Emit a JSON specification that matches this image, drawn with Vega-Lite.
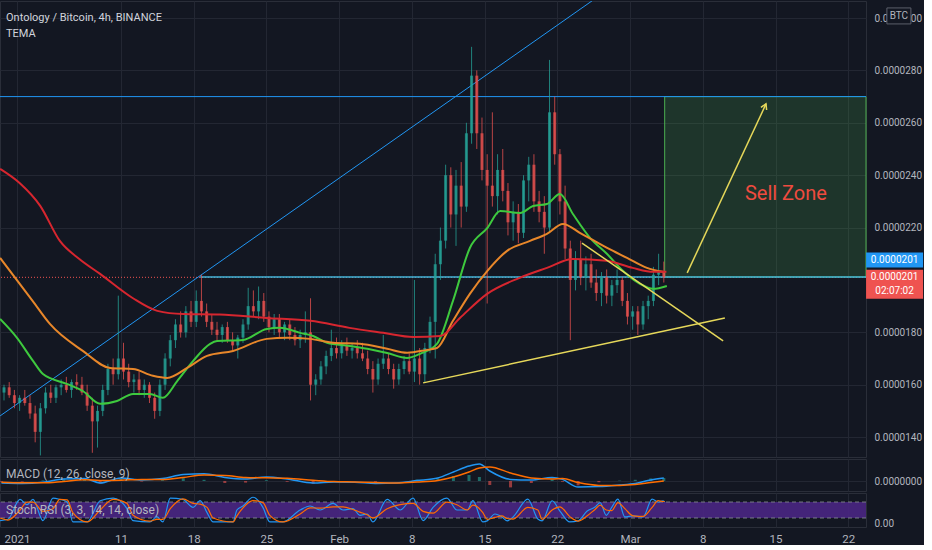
{
"$schema": "https://vega.github.io/schema/vega-lite/v6.json",
"background": "#131722",
"padding": {"left": -5, "top": 0, "right": 0, "bottom": 0},
"spacing": 0,
"config": {
  "font": "Roboto, sans-serif",
  "view": {"stroke": "#2a2e39", "strokeWidth": 1},
  "axis": {"labelColor": "#b2b5be", "labelFontSize": 10, "gridColor": "#232733", "gridWidth": 1, "domain": false, "ticks": false}
},
"datasets": {
  "candles": [
    {"t":"2020-12-30T18:00Z","o":1570,"h":1600,"l":1540,"c":1590},
    {"t":"2020-12-31T06:00Z","o":1590,"h":1610,"l":1550,"c":1560},
    {"t":"2020-12-31T18:00Z","o":1560,"h":1580,"l":1510,"c":1530},
    {"t":"2021-01-01T06:00Z","o":1530,"h":1560,"l":1500,"c":1550},
    {"t":"2021-01-01T18:00Z","o":1550,"h":1580,"l":1520,"c":1530},
    {"t":"2021-01-02T06:00Z","o":1530,"h":1560,"l":1470,"c":1490},
    {"t":"2021-01-02T18:00Z","o":1490,"h":1520,"l":1380,"c":1420},
    {"t":"2021-01-03T06:00Z","o":1420,"h":1530,"l":1330,"c":1510},
    {"t":"2021-01-03T18:00Z","o":1510,"h":1590,"l":1490,"c":1570},
    {"t":"2021-01-04T06:00Z","o":1570,"h":1600,"l":1530,"c":1550},
    {"t":"2021-01-04T18:00Z","o":1550,"h":1600,"l":1530,"c":1590},
    {"t":"2021-01-05T06:00Z","o":1590,"h":1620,"l":1560,"c":1600},
    {"t":"2021-01-05T18:00Z","o":1600,"h":1630,"l":1570,"c":1580},
    {"t":"2021-01-06T06:00Z","o":1580,"h":1620,"l":1550,"c":1610},
    {"t":"2021-01-06T18:00Z","o":1610,"h":1640,"l":1580,"c":1600},
    {"t":"2021-01-07T06:00Z","o":1600,"h":1630,"l":1560,"c":1570},
    {"t":"2021-01-07T18:00Z","o":1570,"h":1600,"l":1500,"c":1520},
    {"t":"2021-01-08T06:00Z","o":1520,"h":1550,"l":1340,"c":1460},
    {"t":"2021-01-08T18:00Z","o":1460,"h":1520,"l":1360,"c":1500},
    {"t":"2021-01-09T06:00Z","o":1500,"h":1600,"l":1480,"c":1580},
    {"t":"2021-01-09T18:00Z","o":1580,"h":1680,"l":1560,"c":1660},
    {"t":"2021-01-10T06:00Z","o":1660,"h":1700,"l":1600,"c":1640},
    {"t":"2021-01-10T18:00Z","o":1640,"h":1940,"l":1620,"c":1700},
    {"t":"2021-01-11T06:00Z","o":1700,"h":1760,"l":1620,"c":1650},
    {"t":"2021-01-11T18:00Z","o":1650,"h":1680,"l":1590,"c":1610},
    {"t":"2021-01-12T06:00Z","o":1610,"h":1640,"l":1570,"c":1620},
    {"t":"2021-01-12T18:00Z","o":1620,"h":1650,"l":1560,"c":1580},
    {"t":"2021-01-13T06:00Z","o":1580,"h":1620,"l":1550,"c":1600},
    {"t":"2021-01-13T18:00Z","o":1600,"h":1610,"l":1530,"c":1550},
    {"t":"2021-01-14T06:00Z","o":1550,"h":1570,"l":1470,"c":1500},
    {"t":"2021-01-14T18:00Z","o":1500,"h":1620,"l":1480,"c":1600},
    {"t":"2021-01-15T06:00Z","o":1600,"h":1720,"l":1580,"c":1700},
    {"t":"2021-01-15T18:00Z","o":1700,"h":1790,"l":1670,"c":1770},
    {"t":"2021-01-16T06:00Z","o":1770,"h":1850,"l":1740,"c":1830},
    {"t":"2021-01-16T18:00Z","o":1830,"h":1880,"l":1780,"c":1800},
    {"t":"2021-01-17T06:00Z","o":1800,"h":1900,"l":1780,"c":1880},
    {"t":"2021-01-17T18:00Z","o":1880,"h":1920,"l":1820,"c":1840},
    {"t":"2021-01-18T06:00Z","o":1840,"h":1960,"l":1820,"c":1920},
    {"t":"2021-01-18T18:00Z","o":1920,"h":2020,"l":1860,"c":1880},
    {"t":"2021-01-19T06:00Z","o":1880,"h":1910,"l":1820,"c":1840},
    {"t":"2021-01-19T18:00Z","o":1840,"h":1870,"l":1790,"c":1810},
    {"t":"2021-01-20T06:00Z","o":1810,"h":1840,"l":1770,"c":1790},
    {"t":"2021-01-20T18:00Z","o":1790,"h":1830,"l":1760,"c":1820},
    {"t":"2021-01-21T06:00Z","o":1820,"h":1840,"l":1760,"c":1770},
    {"t":"2021-01-21T18:00Z","o":1770,"h":1800,"l":1730,"c":1750},
    {"t":"2021-01-22T06:00Z","o":1750,"h":1790,"l":1700,"c":1780},
    {"t":"2021-01-22T18:00Z","o":1780,"h":1850,"l":1760,"c":1830},
    {"t":"2021-01-23T06:00Z","o":1830,"h":1970,"l":1810,"c":1900},
    {"t":"2021-01-23T18:00Z","o":1900,"h":1960,"l":1860,"c":1880},
    {"t":"2021-01-24T06:00Z","o":1880,"h":1975,"l":1850,"c":1920},
    {"t":"2021-01-24T18:00Z","o":1920,"h":1950,"l":1840,"c":1860},
    {"t":"2021-01-25T06:00Z","o":1860,"h":1880,"l":1800,"c":1820},
    {"t":"2021-01-25T18:00Z","o":1820,"h":1870,"l":1790,"c":1850},
    {"t":"2021-01-26T06:00Z","o":1850,"h":1870,"l":1780,"c":1800},
    {"t":"2021-01-26T18:00Z","o":1800,"h":1840,"l":1770,"c":1830},
    {"t":"2021-01-27T06:00Z","o":1830,"h":1850,"l":1770,"c":1790},
    {"t":"2021-01-27T18:00Z","o":1790,"h":1820,"l":1750,"c":1770},
    {"t":"2021-01-28T06:00Z","o":1770,"h":1810,"l":1740,"c":1790},
    {"t":"2021-01-28T18:00Z","o":1790,"h":1880,"l":1760,"c":1800},
    {"t":"2021-01-29T06:00Z","o":1800,"h":1930,"l":1540,"c":1600},
    {"t":"2021-01-29T18:00Z","o":1600,"h":1640,"l":1560,"c":1620},
    {"t":"2021-01-30T06:00Z","o":1620,"h":1690,"l":1600,"c":1670},
    {"t":"2021-01-30T18:00Z","o":1670,"h":1730,"l":1640,"c":1710},
    {"t":"2021-01-31T06:00Z","o":1710,"h":1810,"l":1690,"c":1740},
    {"t":"2021-01-31T18:00Z","o":1740,"h":1780,"l":1700,"c":1720},
    {"t":"2021-02-01T06:00Z","o":1720,"h":1770,"l":1700,"c":1750},
    {"t":"2021-02-01T18:00Z","o":1750,"h":1780,"l":1710,"c":1730},
    {"t":"2021-02-02T06:00Z","o":1730,"h":1760,"l":1700,"c":1740},
    {"t":"2021-02-02T18:00Z","o":1740,"h":1770,"l":1700,"c":1720},
    {"t":"2021-02-03T06:00Z","o":1720,"h":1760,"l":1690,"c":1700},
    {"t":"2021-02-03T18:00Z","o":1700,"h":1730,"l":1640,"c":1660},
    {"t":"2021-02-04T06:00Z","o":1660,"h":1690,"l":1570,"c":1620},
    {"t":"2021-02-04T18:00Z","o":1620,"h":1700,"l":1600,"c":1680},
    {"t":"2021-02-05T06:00Z","o":1680,"h":1790,"l":1660,"c":1700},
    {"t":"2021-02-05T18:00Z","o":1700,"h":1720,"l":1640,"c":1660},
    {"t":"2021-02-06T06:00Z","o":1660,"h":1680,"l":1585,"c":1620},
    {"t":"2021-02-06T18:00Z","o":1620,"h":1680,"l":1600,"c":1660},
    {"t":"2021-02-07T06:00Z","o":1660,"h":1710,"l":1640,"c":1690},
    {"t":"2021-02-07T18:00Z","o":1690,"h":1720,"l":1640,"c":1650},
    {"t":"2021-02-08T06:00Z","o":1650,"h":2000,"l":1610,"c":1700},
    {"t":"2021-02-08T18:00Z","o":1700,"h":1740,"l":1600,"c":1640},
    {"t":"2021-02-09T06:00Z","o":1640,"h":1760,"l":1610,"c":1740},
    {"t":"2021-02-09T18:00Z","o":1740,"h":1860,"l":1720,"c":1840},
    {"t":"2021-02-10T06:00Z","o":1840,"h":2100,"l":1700,"c":2060},
    {"t":"2021-02-10T18:00Z","o":2060,"h":2200,"l":2000,"c":2150},
    {"t":"2021-02-11T06:00Z","o":2150,"h":2440,"l":2120,"c":2400},
    {"t":"2021-02-11T18:00Z","o":2400,"h":2430,"l":2200,"c":2250},
    {"t":"2021-02-12T06:00Z","o":2250,"h":2420,"l":2130,"c":2360},
    {"t":"2021-02-12T18:00Z","o":2360,"h":2450,"l":2200,"c":2280},
    {"t":"2021-02-13T06:00Z","o":2280,"h":2600,"l":2260,"c":2560},
    {"t":"2021-02-13T18:00Z","o":2560,"h":2890,"l":2520,"c":2780},
    {"t":"2021-02-14T06:00Z","o":2780,"h":2800,"l":2500,"c":2560},
    {"t":"2021-02-14T18:00Z","o":2560,"h":2620,"l":2380,"c":2420},
    {"t":"2021-02-15T06:00Z","o":2420,"h":2480,"l":1910,"c":2360},
    {"t":"2021-02-15T18:00Z","o":2360,"h":2640,"l":2280,"c":2320},
    {"t":"2021-02-16T06:00Z","o":2320,"h":2480,"l":2250,"c":2420},
    {"t":"2021-02-16T18:00Z","o":2420,"h":2500,"l":2300,"c":2340},
    {"t":"2021-02-17T06:00Z","o":2340,"h":2370,"l":2170,"c":2220},
    {"t":"2021-02-17T18:00Z","o":2220,"h":2300,"l":2150,"c":2260},
    {"t":"2021-02-18T06:00Z","o":2260,"h":2290,"l":2140,"c":2180},
    {"t":"2021-02-18T18:00Z","o":2180,"h":2400,"l":2160,"c":2380},
    {"t":"2021-02-19T06:00Z","o":2380,"h":2470,"l":2300,"c":2440},
    {"t":"2021-02-19T18:00Z","o":2440,"h":2480,"l":2260,"c":2300},
    {"t":"2021-02-20T06:00Z","o":2300,"h":2340,"l":2220,"c":2260},
    {"t":"2021-02-20T18:00Z","o":2260,"h":2320,"l":2100,"c":2200},
    {"t":"2021-02-21T06:00Z","o":2200,"h":2840,"l":2180,"c":2640},
    {"t":"2021-02-21T18:00Z","o":2640,"h":2700,"l":2440,"c":2480},
    {"t":"2021-02-22T06:00Z","o":2480,"h":2500,"l":2250,"c":2300},
    {"t":"2021-02-22T18:00Z","o":2300,"h":2360,"l":2080,"c":2120},
    {"t":"2021-02-23T06:00Z","o":2120,"h":2150,"l":1770,"c":2000},
    {"t":"2021-02-23T18:00Z","o":2000,"h":2110,"l":1960,"c":2080},
    {"t":"2021-02-24T06:00Z","o":2080,"h":2150,"l":1980,"c":2010},
    {"t":"2021-02-24T18:00Z","o":2010,"h":2090,"l":1960,"c":2060},
    {"t":"2021-02-25T06:00Z","o":2060,"h":2100,"l":1970,"c":1990},
    {"t":"2021-02-25T18:00Z","o":1990,"h":2040,"l":1920,"c":1950},
    {"t":"2021-02-26T06:00Z","o":1950,"h":2030,"l":1900,"c":2010},
    {"t":"2021-02-26T18:00Z","o":2010,"h":2040,"l":1910,"c":1940},
    {"t":"2021-02-27T06:00Z","o":1940,"h":2000,"l":1900,"c":1980},
    {"t":"2021-02-27T18:00Z","o":1980,"h":2040,"l":1950,"c":2000},
    {"t":"2021-02-28T06:00Z","o":2000,"h":2010,"l":1900,"c":1920},
    {"t":"2021-02-28T18:00Z","o":1920,"h":1950,"l":1830,"c":1860},
    {"t":"2021-03-01T06:00Z","o":1860,"h":1900,"l":1810,"c":1880},
    {"t":"2021-03-01T18:00Z","o":1880,"h":1900,"l":1790,"c":1830},
    {"t":"2021-03-02T06:00Z","o":1830,"h":1920,"l":1810,"c":1900},
    {"t":"2021-03-02T18:00Z","o":1900,"h":1940,"l":1850,"c":1920},
    {"t":"2021-03-03T06:00Z","o":1920,"h":2050,"l":1900,"c":2020},
    {"t":"2021-03-03T18:00Z","o":2020,"h":2100,"l":1980,"c":2030},
    {"t":"2021-03-04T06:00Z","o":2030,"h":2070,"l":1990,"c":2010}
  ],
  "tema": [
    {"s":"fast","t":"2020-12-30T09:00Z","p":1851},{"s":"fast","t":"2021-01-01T00:00Z","p":1779},{"s":"fast","t":"2021-01-02T13:00Z","p":1691},{"s":"fast","t":"2021-01-03T12:00Z","p":1641},{"s":"fast","t":"2021-01-05T19:00Z","p":1603},{"s":"fast","t":"2021-01-07T08:00Z","p":1576},{"s":"fast","t":"2021-01-09T00:00Z","p":1527},{"s":"fast","t":"2021-01-10T15:00Z","p":1538},{"s":"fast","t":"2021-01-12T04:00Z","p":1565},{"s":"fast","t":"2021-01-13T19:00Z","p":1565},{"s":"fast","t":"2021-01-15T01:00Z","p":1550},{"s":"fast","t":"2021-01-16T10:00Z","p":1614},{"s":"fast","t":"2021-01-17T23:00Z","p":1691},{"s":"fast","t":"2021-01-19T14:00Z","p":1756},{"s":"fast","t":"2021-01-20T06:00Z","p":1767},{"s":"fast","t":"2021-01-22T18:00Z","p":1771},{"s":"fast","t":"2021-01-25T01:00Z","p":1813},{"s":"fast","t":"2021-01-26T07:00Z","p":1817},{"s":"fast","t":"2021-01-28T06:00Z","p":1798},{"s":"fast","t":"2021-01-29T12:00Z","p":1786},{"s":"fast","t":"2021-01-30T20:00Z","p":1760},{"s":"fast","t":"2021-02-02T01:00Z","p":1748},{"s":"fast","t":"2021-02-03T17:00Z","p":1737},{"s":"fast","t":"2021-02-05T15:00Z","p":1721},{"s":"fast","t":"2021-02-07T13:00Z","p":1702},{"s":"fast","t":"2021-02-08T19:00Z","p":1718},{"s":"fast","t":"2021-02-10T10:00Z","p":1756},{"s":"fast","t":"2021-02-11T23:00Z","p":1920},{"s":"fast","t":"2021-02-13T14:00Z","p":2122},{"s":"fast","t":"2021-02-15T06:00Z","p":2198},{"s":"fast","t":"2021-02-16T12:00Z","p":2263},{"s":"fast","t":"2021-02-18T10:00Z","p":2256},{"s":"fast","t":"2021-02-19T16:00Z","p":2282},{"s":"fast","t":"2021-02-21T00:00Z","p":2290},{"s":"fast","t":"2021-02-22T06:00Z","p":2328},{"s":"fast","t":"2021-02-23T12:00Z","p":2252},{"s":"fast","t":"2021-02-25T04:00Z","p":2160},{"s":"fast","t":"2021-02-26T19:00Z","p":2099},{"s":"fast","t":"2021-02-28T08:00Z","p":2034},{"s":"fast","t":"2021-03-01T23:00Z","p":1985},{"s":"fast","t":"2021-03-03T05:00Z","p":1966},{"s":"fast","t":"2021-03-04T13:00Z","p":1977},
    {"s":"medium","t":"2020-12-30T09:00Z","p":2084},{"s":"medium","t":"2021-01-02T12:00Z","p":1920},{"s":"medium","t":"2021-01-04T04:00Z","p":1832},{"s":"medium","t":"2021-01-07T08:00Z","p":1729},{"s":"medium","t":"2021-01-09T23:00Z","p":1664},{"s":"medium","t":"2021-01-12T04:00Z","p":1660},{"s":"medium","t":"2021-01-14T02:00Z","p":1634},{"s":"medium","t":"2021-01-15T11:00Z","p":1626},{"s":"medium","t":"2021-01-17T09:00Z","p":1664},{"s":"medium","t":"2021-01-19T07:00Z","p":1710},{"s":"medium","t":"2021-01-21T19:00Z","p":1729},{"s":"medium","t":"2021-01-25T01:00Z","p":1775},{"s":"medium","t":"2021-01-27T00:00Z","p":1779},{"s":"medium","t":"2021-01-29T05:00Z","p":1775},{"s":"medium","t":"2021-01-31T10:00Z","p":1760},{"s":"medium","t":"2021-02-03T00:00Z","p":1756},{"s":"medium","t":"2021-02-05T15:00Z","p":1737},{"s":"medium","t":"2021-02-07T13:00Z","p":1722},{"s":"medium","t":"2021-02-09T11:00Z","p":1733},{"s":"medium","t":"2021-02-10T10:00Z","p":1740},{"s":"medium","t":"2021-02-11T23:00Z","p":1844},{"s":"medium","t":"2021-02-13T14:00Z","p":1947},{"s":"medium","t":"2021-02-15T06:00Z","p":2034},{"s":"medium","t":"2021-02-17T04:00Z","p":2111},{"s":"medium","t":"2021-02-19T09:00Z","p":2149},{"s":"medium","t":"2021-02-21T00:00Z","p":2176},{"s":"medium","t":"2021-02-22T13:00Z","p":2214},{"s":"medium","t":"2021-02-24T05:00Z","p":2179},{"s":"medium","t":"2021-02-26T19:00Z","p":2122},{"s":"medium","t":"2021-02-28T17:00Z","p":2084},{"s":"medium","t":"2021-03-02T15:00Z","p":2046},{"s":"medium","t":"2021-03-04T04:00Z","p":2031},
    {"s":"slow","t":"2020-12-30T09:00Z","p":2424},{"s":"slow","t":"2021-01-01T06:00Z","p":2370},{"s":"slow","t":"2021-01-03T06:00Z","p":2282},{"s":"slow","t":"2021-01-05T03:00Z","p":2149},{"s":"slow","t":"2021-01-07T00:00Z","p":2080},{"s":"slow","t":"2021-01-09T00:00Z","p":2023},{"s":"slow","t":"2021-01-12T03:00Z","p":1931},{"s":"slow","t":"2021-01-14T12:00Z","p":1882},{"s":"slow","t":"2021-01-17T00:00Z","p":1870},{"s":"slow","t":"2021-01-20T12:00Z","p":1868},{"s":"slow","t":"2021-01-25T00:00Z","p":1855},{"s":"slow","t":"2021-01-29T06:00Z","p":1844},{"s":"slow","t":"2021-02-02T00:00Z","p":1817},{"s":"slow","t":"2021-02-05T06:00Z","p":1798},{"s":"slow","t":"2021-02-08T03:00Z","p":1782},{"s":"slow","t":"2021-02-10T18:00Z","p":1786},{"s":"slow","t":"2021-02-12T15:00Z","p":1855},{"s":"slow","t":"2021-02-15T06:00Z","p":1947},{"s":"slow","t":"2021-02-18T09:00Z","p":2008},{"s":"slow","t":"2021-02-21T00:00Z","p":2046},{"s":"slow","t":"2021-02-23T12:00Z","p":2080},{"s":"slow","t":"2021-02-26T18:00Z","p":2073},{"s":"slow","t":"2021-03-01T06:00Z","p":2046},{"s":"slow","t":"2021-03-03T06:00Z","p":2031},{"s":"slow","t":"2021-03-04T12:00Z","p":2031}
  ],
  "drawings": [
    {"id":"rising","pt":"a","t":"2020-12-30T09:00Z","p":1481},
    {"id":"rising","pt":"b","t":"2021-03-07T18:00Z","p":3355},
    {"id":"top","pt":"a","t":"2020-12-30T08:44Z","p":2700},
    {"id":"top","pt":"b","t":"2021-03-23T17:00Z","p":2700},
    {"id":"level","pt":"a","t":"2021-01-18T15:00Z","p":2011},
    {"id":"level","pt":"b","t":"2021-03-23T17:00Z","p":2011},
    {"id":"support","pt":"a","t":"2021-02-09T02:00Z","p":1607},
    {"id":"support","pt":"b","t":"2021-03-10T03:00Z","p":1855},
    {"id":"resistance","pt":"a","t":"2021-02-24T09:00Z","p":2141},
    {"id":"resistance","pt":"b","t":"2021-03-09T23:00Z","p":1767},
    {"id":"arrow","pt":"tail","t":"2021-03-06T12:00Z","p":2027},
    {"id":"arrow","pt":"tip","t":"2021-03-14T02:00Z","p":2672}
  ],
  "zone": [{"t1":"2021-03-04T08:00Z","t2":"2021-03-23T17:00Z","p1":2011,"p2":2700,"text":"Sell Zone","tt":"2021-03-16T00:00Z","tp":2328}],
  "lastPrice": [{"p":2010}],
  "tags": [
    {"id":"level","p":2011,"label":"0.0000201","timer":""},
    {"id":"last","p":2010,"label":"0.0000201","timer":"02:07:02"}
  ],
  "header": [
    {"id":"title","text":"Ontology / Bitcoin, 4h, BINANCE"},
    {"id":"study","text":"TEMA"},
    {"id":"unit","text":"BTC"},
    {"id":"macd","text":"MACD (12, 26, close, 9)"},
    {"id":"stoch","text":"Stoch RSI (3, 3, 14, 14, close)"}
  ],
  "macd": [
    {"t":"2020-12-30T12:00Z","m":-10,"s":-6,"h":-4},
    {"t":"2021-01-01T12:00Z","m":-12,"s":-9,"h":-3},
    {"t":"2021-01-03T12:00Z","m":-6,"s":-9,"h":3},
    {"t":"2021-01-05T12:00Z","m":10,"s":-2,"h":12},
    {"t":"2021-01-07T12:00Z","m":12,"s":6,"h":6},
    {"t":"2021-01-09T00:00Z","m":-10,"s":3,"h":-13},
    {"t":"2021-01-11T00:00Z","m":15,"s":4,"h":11},
    {"t":"2021-01-13T00:00Z","m":5,"s":8,"h":-3},
    {"t":"2021-01-15T00:00Z","m":12,"s":8,"h":4},
    {"t":"2021-01-17T00:00Z","m":32,"s":18,"h":14},
    {"t":"2021-01-19T00:00Z","m":36,"s":30,"h":6},
    {"t":"2021-01-21T00:00Z","m":18,"s":28,"h":-10},
    {"t":"2021-01-23T00:00Z","m":10,"s":18,"h":-8},
    {"t":"2021-01-25T00:00Z","m":20,"s":16,"h":4},
    {"t":"2021-01-27T00:00Z","m":10,"s":14,"h":-4},
    {"t":"2021-01-29T12:00Z","m":-10,"s":4,"h":-14},
    {"t":"2021-01-31T12:00Z","m":-5,"s":-3,"h":-2},
    {"t":"2021-02-02T12:00Z","m":-6,"s":-5,"h":-1},
    {"t":"2021-02-04T12:00Z","m":-12,"s":-8,"h":-4},
    {"t":"2021-02-06T12:00Z","m":-10,"s":-10,"h":0},
    {"t":"2021-02-08T12:00Z","m":2,"s":-5,"h":7},
    {"t":"2021-02-10T12:00Z","m":15,"s":3,"h":12},
    {"t":"2021-02-12T00:00Z","m":45,"s":20,"h":25},
    {"t":"2021-02-13T12:00Z","m":75,"s":45,"h":30},
    {"t":"2021-02-14T12:00Z","m":85,"s":65,"h":20},
    {"t":"2021-02-15T12:00Z","m":50,"s":70,"h":-20},
    {"t":"2021-02-17T12:00Z","m":8,"s":40,"h":-32},
    {"t":"2021-02-19T12:00Z","m":5,"s":15,"h":-10},
    {"t":"2021-02-21T12:00Z","m":18,"s":10,"h":8},
    {"t":"2021-02-22T12:00Z","m":8,"s":12,"h":-4},
    {"t":"2021-02-24T00:00Z","m":-30,"s":-8,"h":-22},
    {"t":"2021-02-26T00:00Z","m":-28,"s":-22,"h":-6},
    {"t":"2021-02-28T00:00Z","m":-20,"s":-22,"h":2},
    {"t":"2021-03-01T12:00Z","m":-12,"s":-18,"h":6},
    {"t":"2021-03-03T00:00Z","m":5,"s":-8,"h":13},
    {"t":"2021-03-04T06:00Z","m":15,"s":0,"h":15}
  ],
  "stoch": [
    {"t":"2020-12-30T09:00Z","k":10,"d":20},{"t":"2020-12-31T03:00Z","k":15,"d":12},{"t":"2021-01-01T07:00Z","k":90,"d":50},{"t":"2021-01-01T23:00Z","k":70,"d":80},{"t":"2021-01-02T13:00Z","k":90,"d":80},{"t":"2021-01-03T12:00Z","k":10,"d":45},{"t":"2021-01-04T11:00Z","k":95,"d":55},{"t":"2021-01-05T03:00Z","k":90,"d":90},{"t":"2021-01-05T20:00Z","k":80,"d":88},{"t":"2021-01-06T09:00Z","k":5,"d":40},{"t":"2021-01-07T18:00Z","k":5,"d":5},{"t":"2021-01-09T00:00Z","k":85,"d":50},{"t":"2021-01-10T06:00Z","k":95,"d":90},{"t":"2021-01-11T14:00Z","k":55,"d":75},{"t":"2021-01-12T04:00Z","k":10,"d":30},{"t":"2021-01-13T19:00Z","k":5,"d":8},{"t":"2021-01-14T11:00Z","k":25,"d":15},{"t":"2021-01-15T01:00Z","k":5,"d":15},{"t":"2021-01-15T18:00Z","k":95,"d":55},{"t":"2021-01-16T23:00Z","k":90,"d":92},{"t":"2021-01-17T23:00Z","k":60,"d":75},{"t":"2021-01-18T15:00Z","k":85,"d":72},{"t":"2021-01-19T07:00Z","k":40,"d":60},{"t":"2021-01-19T21:00Z","k":5,"d":20},{"t":"2021-01-21T19:00Z","k":5,"d":5},{"t":"2021-01-22T04:00Z","k":50,"d":28},{"t":"2021-01-22T18:00Z","k":65,"d":58},{"t":"2021-01-23T17:00Z","k":98,"d":85},{"t":"2021-01-24T16:00Z","k":60,"d":78},{"t":"2021-01-25T08:00Z","k":5,"d":30},{"t":"2021-01-26T14:00Z","k":5,"d":5},{"t":"2021-01-28T06:00Z","k":50,"d":35},{"t":"2021-01-29T05:00Z","k":65,"d":58},{"t":"2021-01-30T04:00Z","k":50,"d":57},{"t":"2021-01-31T10:00Z","k":75,"d":62},{"t":"2021-02-01T09:00Z","k":50,"d":62},{"t":"2021-02-02T08:00Z","k":55,"d":52},{"t":"2021-02-03T00:00Z","k":30,"d":42},{"t":"2021-02-03T17:00Z","k":35,"d":32},{"t":"2021-02-04T06:00Z","k":5,"d":20},{"t":"2021-02-05T15:00Z","k":90,"d":55},{"t":"2021-02-06T21:00Z","k":50,"d":70},{"t":"2021-02-08T03:00Z","k":95,"d":75},{"t":"2021-02-09T02:00Z","k":10,"d":45},{"t":"2021-02-10T01:00Z","k":60,"d":38},{"t":"2021-02-11T09:00Z","k":95,"d":80},{"t":"2021-02-12T08:00Z","k":50,"d":70},{"t":"2021-02-13T08:00Z","k":50,"d":50},{"t":"2021-02-13T21:00Z","k":85,"d":68},{"t":"2021-02-14T20:00Z","k":5,"d":40},{"t":"2021-02-15T06:00Z","k":9,"d":15},{"t":"2021-02-16T00:00Z","k":35,"d":22},{"t":"2021-02-16T16:00Z","k":24,"d":28},{"t":"2021-02-17T04:00Z","k":9,"d":18},{"t":"2021-02-17T18:00Z","k":24,"d":16},{"t":"2021-02-19T04:00Z","k":91,"d":60},{"t":"2021-02-20T03:00Z","k":16,"d":50},{"t":"2021-02-20T13:00Z","k":9,"d":15},{"t":"2021-02-21T12:00Z","k":84,"d":50},{"t":"2021-02-22T06:00Z","k":46,"d":62},{"t":"2021-02-23T05:00Z","k":5,"d":25},{"t":"2021-02-24T00:00Z","k":9,"d":8},{"t":"2021-02-24T21:00Z","k":46,"d":28},{"t":"2021-02-25T15:00Z","k":61,"d":52},{"t":"2021-02-26T03:00Z","k":78,"d":68},{"t":"2021-02-26T17:00Z","k":30,"d":50},{"t":"2021-02-27T06:00Z","k":61,"d":48},{"t":"2021-02-27T20:00Z","k":91,"d":78},{"t":"2021-02-28T12:00Z","k":24,"d":55},{"t":"2021-03-01T07:00Z","k":28,"d":28},{"t":"2021-03-02T06:00Z","k":24,"d":26},{"t":"2021-03-03T03:00Z","k":91,"d":60},{"t":"2021-03-03T17:00Z","k":80,"d":85},{"t":"2021-03-04T04:00Z","k":84,"d":82},{"t":"2021-03-04T08:00Z","k":80,"d":82}
  ],
  "stochBand": [{"lo":20,"hi":80}]
},
"vconcat": [
  {
    "width": 866, "height": 456,
    "layer": [
      {"data":{"name":"zone"},
       "mark":{"type":"rect","fill":"#4caf50","fillOpacity":0.2,"stroke":"#4caf50","strokeWidth":1},
       "encoding":{
         "x":{"field":"t1","type":"temporal","title":null,
              "scale":{"type":"utc","domain":[{"year":2020,"month":12,"date":30,"hours":8,"minutes":44,"utc":true},{"year":2021,"month":3,"date":23,"hours":17,"utc":true}]},
              "axis":{"title":null,"labels":false,"ticks":false,"domain":false,"grid":true,
                "values":[{"year":2021,"month":1,"date":1,"utc":true},{"year":2021,"month":1,"date":11,"utc":true},{"year":2021,"month":1,"date":18,"utc":true},{"year":2021,"month":1,"date":25,"utc":true},{"year":2021,"month":2,"date":1,"utc":true},{"year":2021,"month":2,"date":8,"utc":true},{"year":2021,"month":2,"date":15,"utc":true},{"year":2021,"month":2,"date":22,"utc":true},{"year":2021,"month":3,"date":1,"utc":true},{"year":2021,"month":3,"date":8,"utc":true},{"year":2021,"month":3,"date":15,"utc":true},{"year":2021,"month":3,"date":22,"utc":true}]}},
         "x2":{"field":"t2"},
         "y":{"field":"p1","type":"quantitative","title":null,
              "scale":{"domain":[1324,3065],"zero":false,"nice":false},
              "axis":{"title":null,"orient":"right","values":[1400,1600,1800,2200,2400,2600,2800,3000],"labelExpr":"format(datum.value/1e8,'.7f')","grid":true,"ticks":false,"domain":false,"labelPadding":8}},
         "y2":{"field":"p2"}
       }},
      {"data":{"name":"lastPrice"},
       "mark":{"type":"rule","color":"#ef5350","strokeWidth":1,"strokeDash":[1,2]},
       "encoding":{"y":{"field":"p","type":"quantitative"}}},
      {"data":{"name":"drawings"},"transform":[{"filter":"datum.id=='rising' || datum.id=='top'"}],
       "mark":{"type":"line","color":"#2196f3","strokeWidth":1,"clip":true},
       "encoding":{"x":{"field":"t","type":"temporal"},"y":{"field":"p","type":"quantitative"},"detail":{"field":"id"}}},
      {"data":{"name":"drawings"},"transform":[{"filter":"datum.id=='level'"}],
       "mark":{"type":"line","color":"#40b4d8","strokeWidth":1.5},
       "encoding":{"x":{"field":"t","type":"temporal"},"y":{"field":"p","type":"quantitative"}}},
      {"data":{"name":"candles"},
       "mark":{"type":"rule","strokeWidth":1,"opacity":0.75},
       "encoding":{"x":{"field":"t","type":"temporal"},"y":{"field":"l","type":"quantitative"},"y2":{"field":"h"},
         "color":{"condition":{"test":"datum.c >= datum.o","value":"#26a69a"},"value":"#ef5350"}}},
      {"data":{"name":"candles"},
       "mark":{"type":"rule","strokeWidth":3,"opacity":0.75},
       "encoding":{"x":{"field":"t","type":"temporal"},"y":{"field":"o","type":"quantitative"},"y2":{"field":"c"},
         "color":{"condition":{"test":"datum.c >= datum.o","value":"#26a69a"},"value":"#ef5350"}}},
      {"data":{"name":"tema"},
       "mark":{"type":"line","strokeWidth":2,"interpolate":"monotone"},
       "encoding":{"x":{"field":"t","type":"temporal"},"y":{"field":"p","type":"quantitative"},
         "color":{"field":"s","type":"nominal","legend":null,"scale":{"domain":["slow","medium","fast"],"range":["#d7262f","#e8872a","#3ec93e"]}},
         "order":{"field":"t","type":"temporal"}}},
      {"data":{"name":"drawings"},"transform":[{"filter":"datum.id=='support' || datum.id=='resistance' || datum.id=='arrow'"}],
       "mark":{"type":"line","color":"#e6d85a","strokeWidth":1.5},
       "encoding":{"x":{"field":"t","type":"temporal"},"y":{"field":"p","type":"quantitative"},"detail":{"field":"id"}}},
      {"data":{"name":"drawings"},"transform":[{"filter":"datum.id=='arrow' && datum.pt=='tip'"}],
       "mark":{"type":"point","shape":"M-0.6,1L0,0L0.6,1","size":110,"angle":25,"filled":false,"stroke":"#e6d85a","strokeWidth":1.5,"opacity":1},
       "encoding":{"x":{"field":"t","type":"temporal"},"y":{"field":"p","type":"quantitative"}}},
      {"data":{"name":"zone"},
       "mark":{"type":"text","color":"#ef4b3f","fontSize":20,"align":"center","baseline":"middle"},
       "encoding":{"x":{"field":"tt","type":"temporal"},"y":{"field":"tp","type":"quantitative"},"text":{"field":"text"}}},
      {"data":{"name":"header"},"transform":[{"filter":"datum.id=='title'"}],
       "mark":{"type":"text","align":"left","baseline":"middle","dx":6,"fontSize":11,"color":"#d1d4dc"},
       "encoding":{"x":{"datum":{"year":2020,"month":12,"date":30,"hours":8,"minutes":44,"utc":true},"type":"temporal"},"y":{"datum":3000,"type":"quantitative"},"text":{"field":"text"}}},
      {"data":{"name":"header"},"transform":[{"filter":"datum.id=='study'"}],
       "mark":{"type":"text","align":"left","baseline":"middle","dx":6,"fontSize":11,"color":"#d1d4dc"},
       "encoding":{"x":{"datum":{"year":2020,"month":12,"date":30,"hours":8,"minutes":44,"utc":true},"type":"temporal"},"y":{"datum":2939,"type":"quantitative"},"text":{"field":"text"}}},
      {"data":{"name":"header"},"transform":[{"filter":"datum.id=='unit'"}],
       "mark":{"type":"point","shape":"M-1,-0.667H1V0.667H-1Z","size":576,"filled":true,"fill":"#131722","stroke":"#5d606b","strokeWidth":1,"opacity":1},
       "encoding":{"x":{"datum":{"year":2021,"month":3,"date":26,"hours":21,"utc":true},"type":"temporal"},"y":{"datum":3008,"type":"quantitative"}}},
      {"data":{"name":"header"},"transform":[{"filter":"datum.id=='unit'"}],
       "mark":{"type":"text","align":"center","baseline":"middle","fontSize":10,"color":"#b2b5be"},
       "encoding":{"x":{"datum":{"year":2021,"month":3,"date":26,"hours":21,"utc":true},"type":"temporal"},"y":{"datum":3008,"type":"quantitative"},"text":{"field":"text"}}},
      {"data":{"name":"tags"},"transform":[{"filter":"datum.id=='level'"}],
       "mark":{"type":"point","shape":"M-1,-0.263H1V0.263H-1Z","size":3249,"filled":true,"fill":"#2196f3","strokeWidth":0,"opacity":1,"yOffset":-17},
       "encoding":{"x":{"datum":{"year":2021,"month":3,"date":26,"hours":11,"utc":true},"type":"temporal"},"y":{"field":"p","type":"quantitative"}}},
      {"data":{"name":"tags"},"transform":[{"filter":"datum.id=='level'"}],
       "mark":{"type":"text","align":"center","baseline":"middle","fontSize":10,"color":"#ffffff","dy":-17},
       "encoding":{"x":{"datum":{"year":2021,"month":3,"date":26,"hours":11,"utc":true},"type":"temporal"},"y":{"field":"p","type":"quantitative"},"text":{"field":"label"}}},
      {"data":{"name":"tags"},"transform":[{"filter":"datum.id=='last'"}],
       "mark":{"type":"point","shape":"M-1,-0.51H1V0.51H-1Z","size":3249,"filled":true,"fill":"#ef5350","strokeWidth":0,"opacity":1,"yOffset":7},
       "encoding":{"x":{"datum":{"year":2021,"month":3,"date":26,"hours":11,"utc":true},"type":"temporal"},"y":{"field":"p","type":"quantitative"}}},
      {"data":{"name":"tags"},"transform":[{"filter":"datum.id=='last'"}],
       "mark":{"type":"text","align":"center","baseline":"middle","fontSize":10,"color":"#ffffff","dy":0},
       "encoding":{"x":{"datum":{"year":2021,"month":3,"date":26,"hours":11,"utc":true},"type":"temporal"},"y":{"field":"p","type":"quantitative"},"text":{"field":"label"}}},
      {"data":{"name":"tags"},"transform":[{"filter":"datum.id=='last'"}],
       "mark":{"type":"text","align":"center","baseline":"middle","fontSize":10,"color":"#ffffff","dy":14},
       "encoding":{"x":{"datum":{"year":2021,"month":3,"date":26,"hours":11,"utc":true},"type":"temporal"},"y":{"field":"p","type":"quantitative"},"text":{"field":"timer"}}}
    ]
  },
  {
    "width": 866, "height": 32,
    "layer": [
      {"data":{"name":"macd"},
       "mark":{"type":"rule","strokeWidth":3,"opacity":0.6},
       "encoding":{
         "x":{"field":"t","type":"temporal","title":null,
              "scale":{"type":"utc","domain":[{"year":2020,"month":12,"date":30,"hours":8,"minutes":44,"utc":true},{"year":2021,"month":3,"date":23,"hours":17,"utc":true}]},
              "axis":{"title":null,"labels":false,"ticks":false,"domain":false,"grid":true,
                "values":[{"year":2021,"month":1,"date":1,"utc":true},{"year":2021,"month":1,"date":11,"utc":true},{"year":2021,"month":1,"date":18,"utc":true},{"year":2021,"month":1,"date":25,"utc":true},{"year":2021,"month":2,"date":1,"utc":true},{"year":2021,"month":2,"date":8,"utc":true},{"year":2021,"month":2,"date":15,"utc":true},{"year":2021,"month":2,"date":22,"utc":true},{"year":2021,"month":3,"date":1,"utc":true},{"year":2021,"month":3,"date":8,"utc":true},{"year":2021,"month":3,"date":15,"utc":true},{"year":2021,"month":3,"date":22,"utc":true}]}},
         "y":{"field":"h","type":"quantitative","title":null,
              "scale":{"domain":[-50,110],"zero":false,"nice":false},
              "axis":{"title":null,"orient":"right","values":[0],"labelExpr":"'0.0000000'","grid":true,"ticks":false,"domain":false,"labelPadding":8}},
         "y2":{"datum":0},
         "color":{"condition":{"test":"datum.h >= 0","value":"#26a69a"},"value":"#ef5350"}
       }},
      {"data":{"name":"macd"},
       "mark":{"type":"line","color":"#2196f3","strokeWidth":1.5,"interpolate":"monotone"},
       "encoding":{"x":{"field":"t","type":"temporal"},"y":{"field":"m","type":"quantitative"}}},
      {"data":{"name":"macd"},
       "mark":{"type":"line","color":"#ff6d00","strokeWidth":1.5,"interpolate":"monotone"},
       "encoding":{"x":{"field":"t","type":"temporal"},"y":{"field":"s","type":"quantitative"}}},
      {"data":{"name":"header"},"transform":[{"filter":"datum.id=='macd'"}],
       "mark":{"type":"text","align":"left","baseline":"middle","dx":6,"fontSize":12,"color":"#b2b5be"},
       "encoding":{"x":{"datum":{"year":2020,"month":12,"date":30,"hours":8,"minutes":44,"utc":true},"type":"temporal"},"y":{"datum":35,"type":"quantitative"},"text":{"field":"text"}}}
    ]
  },
  {
    "width": 866, "height": 34,
    "layer": [
      {"data":{"name":"stochBand"},
       "mark":{"type":"rect","fill":"#4a2683","opacity":0.9},
       "encoding":{
         "x":{"datum":{"year":2020,"month":12,"date":30,"hours":8,"minutes":44,"utc":true},"type":"temporal","title":null,
              "scale":{"type":"utc","domain":[{"year":2020,"month":12,"date":30,"hours":8,"minutes":44,"utc":true},{"year":2021,"month":3,"date":23,"hours":17,"utc":true}]},
              "axis":{"title":null,"ticks":false,"domain":false,"grid":true,"labelPadding":6,"labelFontSize":11.5,"labelFlush":false,
                "labelExpr":"utcdate(datum.value)==1 ? (utcmonth(datum.value)==0 ? '2021' : utcFormat(datum.value,'%b')) : utcFormat(datum.value,'%-d')",
                "values":[{"year":2021,"month":1,"date":1,"utc":true},{"year":2021,"month":1,"date":11,"utc":true},{"year":2021,"month":1,"date":18,"utc":true},{"year":2021,"month":1,"date":25,"utc":true},{"year":2021,"month":2,"date":1,"utc":true},{"year":2021,"month":2,"date":8,"utc":true},{"year":2021,"month":2,"date":15,"utc":true},{"year":2021,"month":2,"date":22,"utc":true},{"year":2021,"month":3,"date":1,"utc":true},{"year":2021,"month":3,"date":8,"utc":true},{"year":2021,"month":3,"date":15,"utc":true},{"year":2021,"month":3,"date":22,"utc":true}]}},
         "x2":{"datum":{"year":2021,"month":3,"date":23,"hours":17,"utc":true}},
         "y":{"field":"lo","type":"quantitative","title":null,
              "scale":{"domain":[-14,114],"zero":false,"nice":false},
              "axis":{"title":null,"orient":"right","values":[0],"labelExpr":"'0.00'","grid":false,"ticks":false,"domain":false,"labelPadding":8}},
         "y2":{"field":"hi"}
       }},
      {"data":{"name":"stochBand"},
       "mark":{"type":"rule","color":"#787b86","strokeDash":[4,3],"strokeWidth":1},
       "encoding":{"y":{"field":"lo","type":"quantitative"}}},
      {"data":{"name":"stochBand"},
       "mark":{"type":"rule","color":"#787b86","strokeDash":[4,3],"strokeWidth":1},
       "encoding":{"y":{"field":"hi","type":"quantitative"}}},
      {"data":{"name":"stoch"},
       "mark":{"type":"line","color":"#2196f3","strokeWidth":1.2,"interpolate":"monotone"},
       "encoding":{"x":{"field":"t","type":"temporal"},"y":{"field":"k","type":"quantitative"}}},
      {"data":{"name":"stoch"},
       "mark":{"type":"line","color":"#ff6d00","strokeWidth":1.2,"interpolate":"monotone"},
       "encoding":{"x":{"field":"t","type":"temporal"},"y":{"field":"d","type":"quantitative"}}},
      {"data":{"name":"header"},"transform":[{"filter":"datum.id=='stoch'"}],
       "mark":{"type":"text","align":"left","baseline":"middle","dx":6,"fontSize":12,"color":"#b2b5be"},
       "encoding":{"x":{"datum":{"year":2020,"month":12,"date":30,"hours":8,"minutes":44,"utc":true},"type":"temporal"},"y":{"datum":50,"type":"quantitative"},"text":{"field":"text"}}}
    ]
  }
]
}
